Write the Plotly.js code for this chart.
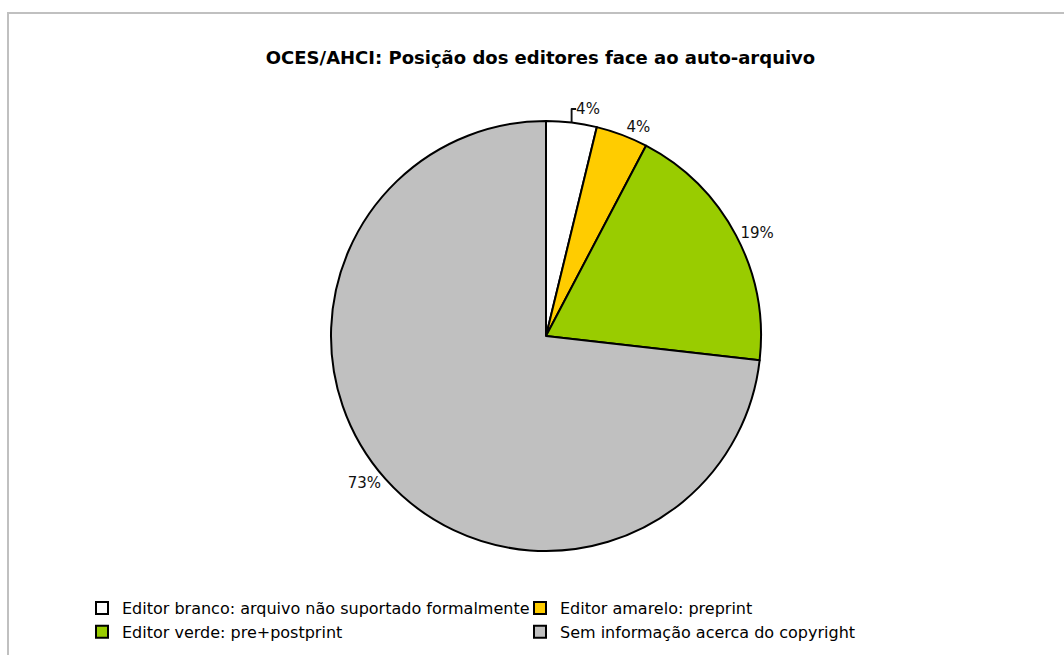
<!DOCTYPE html>
<html>
<head>
<meta charset="utf-8">
<script src="https://cdn.plot.ly/plotly-3.0.1.min.js"></script>
<style>
html,body{margin:0;padding:0;background:#fff;}
#frame{position:absolute;left:7px;top:12px;width:1057px;height:643px;border-left:2px solid #c0c0c0;border-top:2px solid #c0c0c0;box-sizing:border-box;}
#chart{position:absolute;left:0;top:0;width:1064px;height:655px;}
</style>
</head>
<body>
<div id="frame"></div>
<div id="chart"></div>
<script>
const chartTitle = 'OCES/AHCI: Posição dos editores face ao auto-arquivo';
const categories = [
  'Editor branco: arquivo não suportado formalmente',
  'Editor amarelo: preprint',
  'Editor verde: pre+postprint',
  'Sem informação acerca do copyright'
];
const values = [3.8, 3.9, 19.1, 73.2];
const colors = ['#FFFFFF', '#FFCC00', '#99CC00', '#C0C0C0'];

const W = 1064, H = 655;
const cx = 546, cy = 336, R = 215;
const FONT = 'DejaVu Sans, Liberation Sans, Arial, sans-serif';

const trace = {
  type: 'pie',
  labels: categories,
  values: values,
  sort: false,
  direction: 'clockwise',
  rotation: 0,
  marker: {colors: colors, line: {color: '#000000', width: 2}},
  texttemplate: '%{percent:.0%}',
  textposition: 'outside',
  outsidetextfont: {family: FONT, size: 15, color: '#111'},
  hoverinfo: 'label+percent',
  domain: {
    x: [(cx - R) / W, (cx + R) / W],
    y: [(H - cy - R) / H, (H - cy + R) / H]
  }
};

const layout = {
  width: W,
  height: H,
  margin: {l: 0, r: 0, t: 0, b: 0},
  paper_bgcolor: 'rgba(0,0,0,0)',
  plot_bgcolor: 'rgba(0,0,0,0)',
  font: {family: FONT, color: '#000'},
  title: {
    text: '<b>' + chartTitle + '</b>',
    font: {family: FONT, size: 18, color: '#000'},
    x: 0.508, xanchor: 'center',
    y: 1 - 58 / H, yanchor: 'middle'
  },
  showlegend: true,
  legend: {
    orientation: 'h',
    x: 82 / W, xanchor: 'left',
    y: 1 - 591 / H, yanchor: 'top',
    entrywidth: 393,
    entrywidthmode: 'pixels',
    font: {family: FONT, size: 16, color: '#000'},
    traceorder: 'normal',
    bgcolor: 'rgba(0,0,0,0)'
  }
};

Plotly.newPlot('chart', [trace], layout, {displayModeBar: false, staticPlot: true});
</script>
</body>
</html>
